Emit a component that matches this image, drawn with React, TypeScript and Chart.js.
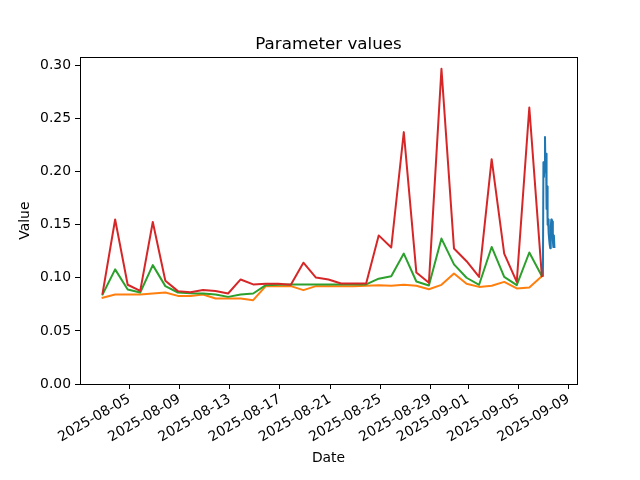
import { useEffect, useRef } from "react";
import { Chart, registerables } from "chart.js";

Chart.register(...registerables);

// Daily series timestamps (UTC)
const dailyDates = [
  "2025-08-02T21:00:00Z", "2025-08-03T21:00:00Z", "2025-08-04T21:00:00Z", "2025-08-05T21:00:00Z",
  "2025-08-06T21:00:00Z", "2025-08-07T21:00:00Z", "2025-08-08T21:00:00Z", "2025-08-09T21:00:00Z",
  "2025-08-10T21:00:00Z", "2025-08-11T21:00:00Z", "2025-08-12T21:00:00Z", "2025-08-13T21:00:00Z",
  "2025-08-14T21:00:00Z", "2025-08-15T21:00:00Z", "2025-08-16T21:00:00Z", "2025-08-17T21:00:00Z",
  "2025-08-18T21:00:00Z", "2025-08-19T21:00:00Z", "2025-08-20T21:00:00Z", "2025-08-21T21:00:00Z",
  "2025-08-22T21:00:00Z", "2025-08-23T21:00:00Z", "2025-08-24T21:00:00Z", "2025-08-25T21:00:00Z",
  "2025-08-26T21:00:00Z", "2025-08-27T21:00:00Z", "2025-08-28T21:00:00Z", "2025-08-29T21:00:00Z",
  "2025-08-30T21:00:00Z", "2025-08-31T21:00:00Z", "2025-09-01T21:00:00Z", "2025-09-02T21:00:00Z",
  "2025-09-03T21:00:00Z", "2025-09-04T21:00:00Z", "2025-09-05T21:00:00Z", "2025-09-06T21:00:00Z",
];

const redValues = [
  0.0853, 0.155, 0.0935, 0.0877, 0.1526, 0.0972, 0.0875, 0.0865, 0.0886, 0.0877,
  0.0853, 0.0985, 0.0938, 0.0945, 0.0945, 0.0934, 0.1143, 0.1003, 0.0985, 0.0947,
  0.0947, 0.0947, 0.140, 0.1286, 0.2373, 0.105, 0.0953, 0.2969, 0.1276, 0.1157,
  0.1009, 0.2118, 0.1229, 0.0962, 0.2605, 0.1016,
];

const greenValues = [
  0.0843, 0.108, 0.089, 0.0862, 0.112, 0.0922, 0.0862, 0.0855, 0.0853, 0.0844,
  0.0821, 0.0844, 0.0853, 0.0931, 0.0934, 0.0938, 0.0938, 0.0938, 0.0938, 0.0938,
  0.0938, 0.0938, 0.0992, 0.1016, 0.1229, 0.0966, 0.0928, 0.137, 0.1127, 0.1001,
  0.0935, 0.1291, 0.1009, 0.0931, 0.1239, 0.1016,
];

const orangeValues = [
  0.0812, 0.0843, 0.0843, 0.0843, 0.0853, 0.0862, 0.083, 0.083, 0.0843, 0.0806,
  0.0806, 0.0805, 0.079, 0.0922, 0.0922, 0.0922, 0.0884, 0.0922, 0.0922, 0.0922,
  0.0922, 0.0925, 0.0931, 0.0925, 0.0934, 0.0925, 0.0893, 0.0934, 0.1041, 0.0945,
  0.0915, 0.0925, 0.0962, 0.09, 0.0909, 0.1016,
];

// Hourly series timestamps (UTC)
const blueDates = [
  "2025-09-06T23:00:00Z", "2025-09-07T00:00:00Z", "2025-09-07T01:00:00Z", "2025-09-07T02:00:00Z",
  "2025-09-07T03:00:00Z", "2025-09-07T04:00:00Z", "2025-09-07T05:00:00Z", "2025-09-07T06:00:00Z",
  "2025-09-07T07:00:00Z", "2025-09-07T08:00:00Z", "2025-09-07T09:00:00Z", "2025-09-07T10:00:00Z",
  "2025-09-07T11:00:00Z", "2025-09-07T12:00:00Z", "2025-09-07T13:00:00Z", "2025-09-07T14:00:00Z",
  "2025-09-07T15:00:00Z", "2025-09-07T16:00:00Z", "2025-09-07T17:00:00Z", "2025-09-07T18:00:00Z",
  "2025-09-07T19:00:00Z", "2025-09-07T20:00:00Z", "2025-09-07T21:00:00Z",
];

const blueValues = [
  0.102, 0.209, 0.195, 0.208, 0.2326, 0.2, 0.217, 0.165, 0.186, 0.15,
  0.155, 0.142, 0.136, 0.131, 0.128, 0.148, 0.155, 0.14, 0.153, 0.135,
  0.129, 0.14, 0.129,
];

const xTickDates = [
  "2025-08-05", "2025-08-09", "2025-08-13", "2025-08-17", "2025-08-21",
  "2025-08-25", "2025-08-29", "2025-09-01", "2025-09-05", "2025-09-09",
];

const yTickValues = [0, 0.05, 0.1, 0.15, 0.2, 0.25, 0.3];

const chartTitle = "Parameter values";
const xTitle = "Date";
const yTitle = "Value";

const FAMILY = "'DejaVu Sans', sans-serif";

export default function App() {
  const ref = useRef<HTMLCanvasElement>(null);

  useEffect(() => {
    if (!ref.current) return;
    const toMs = (s: string) => Date.parse(s);
    const allX = [...dailyDates, ...blueDates].map(toMs);
    const xmin = Math.min(...allX);
    const xmax = Math.max(...allX);
    const xpad = (xmax - xmin) * 0.05;
    const allY = [...redValues, ...greenValues, ...orangeValues, ...blueValues];
    const ymaxData = Math.max(...allY);
    const yminData = Math.min(...allY);
    const ymax = ymaxData + (ymaxData - yminData) * 0.05;

    const mk = (dates: string[], vals: number[]) =>
      dates.map((d, i) => ({ x: toMs(d), y: vals[i] }));

    const frame = {
      id: "frame",
      afterDraw(chart: any) {
        const { ctx, chartArea: a } = chart;
        ctx.save();
        ctx.strokeStyle = "#000";
        ctx.lineWidth = 1;
        ctx.strokeRect(
          Math.round(a.left) + 0.5,
          Math.round(a.top) + 0.5,
          Math.round(a.right) - Math.round(a.left),
          Math.round(a.bottom) - Math.round(a.top)
        );
        // title centred over the axes area
        ctx.fillStyle = "#000";
        ctx.font = `16.7px ${FAMILY}`;
        ctx.textAlign = "center";
        ctx.textBaseline = "alphabetic";
        ctx.fillText(chartTitle, (a.left + a.right) / 2, a.top - 8.3);
        ctx.restore();
      },
    };

    const tickFont = { family: FAMILY, size: 13.9, lineHeight: 1.2 };

    const chart = new Chart(ref.current, {
      type: "line",
      data: {
        datasets: [
          { label: "blue", data: mk(blueDates, blueValues), borderColor: "#1f77b4", backgroundColor: "#1f77b4", order: 4 },
          { label: "orange", data: mk(dailyDates, orangeValues), borderColor: "#ff7f0e", backgroundColor: "#ff7f0e", order: 3 },
          { label: "green", data: mk(dailyDates, greenValues), borderColor: "#2ca02c", backgroundColor: "#2ca02c", order: 2 },
          { label: "red", data: mk(dailyDates, redValues), borderColor: "#d62728", backgroundColor: "#d62728", order: 1 },
        ],
      },
      options: {
        animation: false,
        responsive: false,
        devicePixelRatio: 1,
        elements: {
          point: { radius: 0, hoverRadius: 0 },
          line: { borderWidth: 2, tension: 0, borderCapStyle: "square", borderJoinStyle: "round" },
        },
        layout: { padding: { left: 0, right: 63, top: 57.3, bottom: 0 } },
        plugins: {
          legend: { display: false },
          tooltip: { enabled: false },
          title: { display: false },
        },
        scales: {
          x: {
            type: "linear",
            min: xmin - xpad,
            max: xmax + xpad,
            afterBuildTicks: (s: any) => {
              s.ticks = xTickDates.map((d) => ({ value: Date.parse(d + "T00:00:00Z") }));
            },
            afterFit: (s: any) => {
              s.height = 96;
            },
            ticks: {
              autoSkip: false,
              minRotation: 30,
              maxRotation: 30,
              color: "#000",
              font: tickFont,
              padding: 2,
              callback: (v: any) => new Date(Number(v)).toISOString().slice(0, 10),
            },
            grid: { drawOnChartArea: false, drawTicks: true, tickLength: 5, tickColor: "#000", tickWidth: 1 },
            border: { display: false },
            title: {
              display: true,
              text: xTitle,
              color: "#000",
              font: tickFont,
              padding: { top: 0, bottom: 13 },
            },
          },
          y: {
            type: "linear",
            min: 0,
            max: ymax,
            afterBuildTicks: (s: any) => {
              s.ticks = yTickValues.map((v) => ({ value: v }));
            },
            afterFit: (s: any) => {
              s.width = 80;
            },
            ticks: {
              color: "#000",
              font: tickFont,
              padding: 4,
              callback: (v: any) => Number(v).toFixed(2),
            },
            grid: { drawOnChartArea: false, drawTicks: true, tickLength: 5, tickColor: "#000", tickWidth: 1 },
            border: { display: false },
            title: {
              display: true,
              text: yTitle,
              color: "#000",
              font: tickFont,
              padding: { top: 17, bottom: 0 },
            },
          },
        },
      },
      plugins: [frame],
    } as any);

    return () => chart.destroy();
  }, []);

  return (
    <div style={{ position: "fixed", left: 0, top: 0, width: 640, height: 480, background: "#fff" }}>
      <canvas ref={ref} width={640} height={480} style={{ display: "block" }} />
    </div>
  );
}
